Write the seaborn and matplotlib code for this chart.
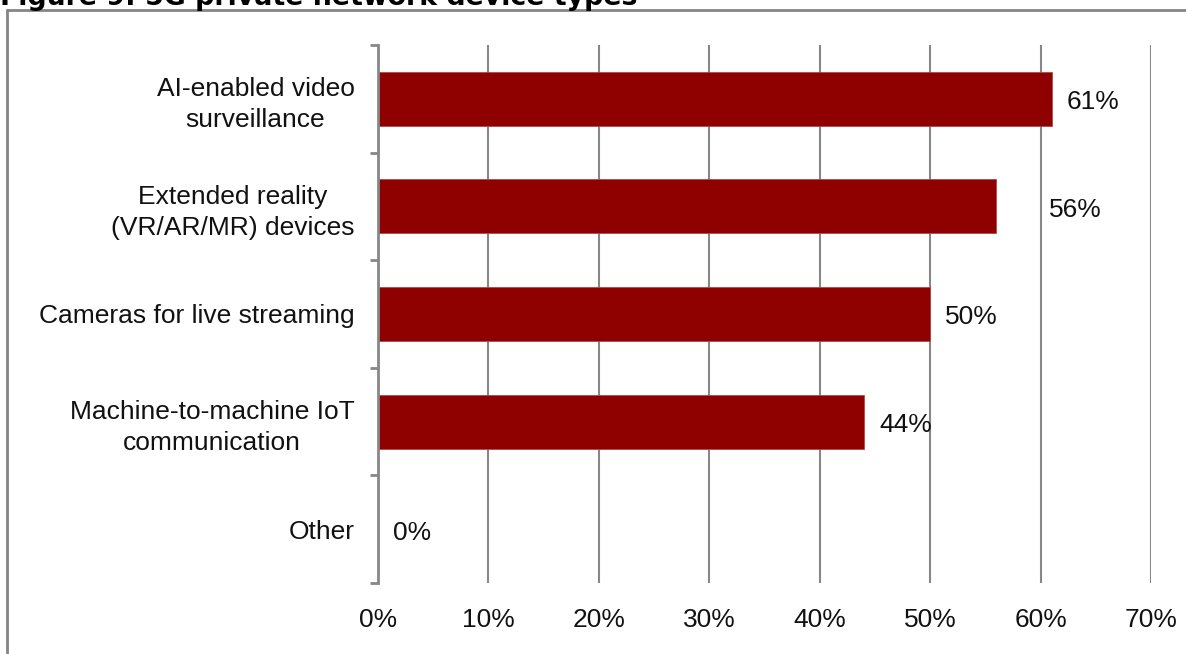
import matplotlib
matplotlib.use("Agg")
import matplotlib.pyplot as plt
from matplotlib.lines import Line2D
from matplotlib.ticker import FixedLocator, FuncFormatter
import seaborn as sns
import pandas as pd

categories = [
    "AI-enabled video\nsurveillance",
    "Extended reality\n(VR/AR/MR) devices",
    "Cameras for live streaming",
    "Machine-to-machine IoT\ncommunication",
    "Other",
]
shares = [61, 56, 50, 44, 0]
x_ticks = [0, 10, 20, 30, 40, 50, 60, 70]
title = "Figure 9: 5G private network device types"

df = pd.DataFrame({"device": categories, "share": shares})

sns.set_style("white")
plt.rcParams["font.family"] = ["Liberation Sans", "DejaVu Sans"]

BAR = "#8f0000"
GRID = "#878787"
FS = 19

fig = plt.figure(figsize=(11.86, 6.54), dpi=100)
ax = fig.add_axes([378 / 1186, 1 - 583 / 654, (1151 - 378) / 1186, (583 - 45) / 654])

sns.barplot(data=df, y="device", x="share", orient="h", color=BAR, saturation=1,
            width=0.5, edgecolor="#b04848", linewidth=0.6, ax=ax)

ax.set_xlim(0, 70)
ax.set_ylim(len(categories) - 0.5, -0.5)
ax.xaxis.set_major_locator(FixedLocator(x_ticks))
ax.xaxis.set_major_formatter(FuncFormatter(lambda v, _: f"{v:.0f}%"))
ax.grid(axis="x", color=GRID, linewidth=1.5)
ax.set_axisbelow(True)
ax.set_xlabel("")
ax.set_ylabel("")

for side in ("top", "right", "bottom"):
    ax.spines[side].set_visible(False)
ax.spines["left"].set_color(GRID)
ax.spines["left"].set_linewidth(2.0)

# category separators as outward ticks on the value axis
ax.yaxis.set_minor_locator(FixedLocator([i - 0.5 for i in range(len(categories) + 1)]))
ax.tick_params(axis="y", which="minor", length=5.5, width=2.0, color=GRID, direction="out", left=True)
ax.tick_params(axis="y", which="major", length=0, pad=17, labelsize=FS, labelcolor="#111111")
ax.tick_params(axis="x", which="major", length=0, pad=18, labelsize=FS, labelcolor="#111111")
for lab in ax.get_yticklabels():
    lab.set_multialignment("center")
    lab.set_linespacing(1.35)

# value labels at the bar ends
extra = {1: 27}
for i, v in enumerate(shares):
    ax.annotate(f"{v}%", xy=(v, i), xytext=(11 + extra.get(i, 0), -2.5),
                textcoords="offset points", ha="left", va="center",
                fontsize=FS, color="#111111")

# outer frame of the figure panel
fig.add_artist(Line2D([7 / 1186, 1.0], [1 - 10 / 654, 1 - 10 / 654],
                      transform=fig.transFigure, color="#858585", linewidth=2.0))
fig.add_artist(Line2D([7 / 1186, 7 / 1186], [0.0, 1 - 10 / 654],
                      transform=fig.transFigure, color="#858585", linewidth=2.0))

fig.text(0.0, 1 - 5 / 654, title, ha="left", va="baseline", fontsize=19.3,
         fontweight="bold", family="DejaVu Sans", color="black")

fig.savefig("out.png", dpi=100)
